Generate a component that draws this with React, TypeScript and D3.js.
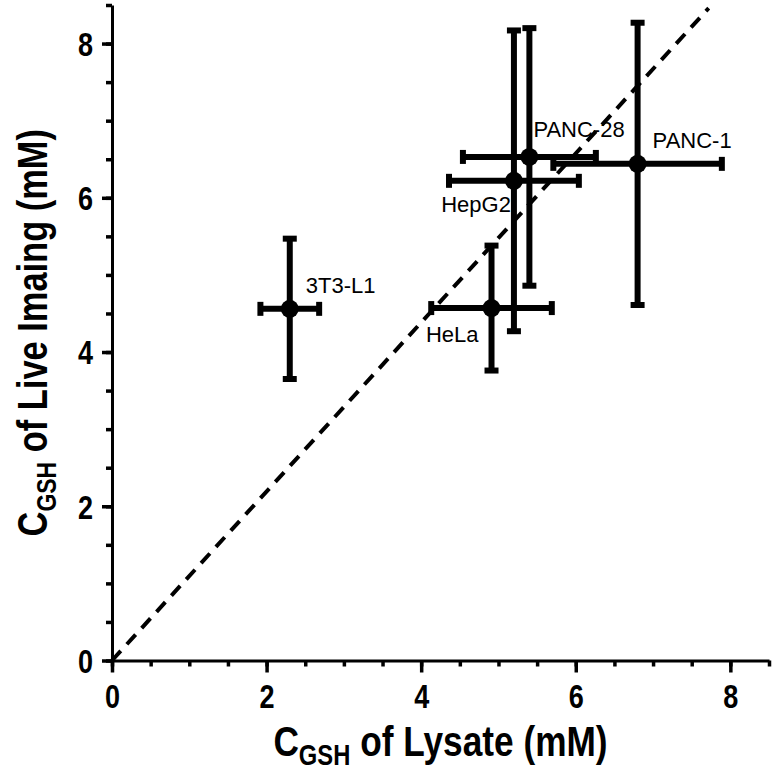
import React, { useEffect, useRef } from "react";
import * as d3 from "d3";

// cell lines and their GSH values (mM)
const cellLines = ["3T3-L1", "HeLa", "HepG2", "PANC-28", "PANC-1"];
const lysate = [2.3, 4.91, 5.2, 5.4, 6.8];
const lysateErr = [0.38, 0.78, 0.84, 0.86, 1.09];
const liveImaging = [4.56, 4.57, 6.22, 6.53, 6.44];
const liveImagingErr = [0.91, 0.81, 1.95, 1.67, 1.83];

// dashed reference line, start and end in data units
const refLineX = [0, 7.72];
const refLineY = [0, 8.46];

const majorTicks = [0, 2, 4, 6, 8];
const minorTicks = d3.range(0, 8.51, 0.5);

// label placement (pixels from the point)
const labelOffsets: Record<string, [number, number, string]> = {
  "3T3-L1": [16, -16, "start"],
  HeLa: [-13, 34, "end"],
  HepG2: [-3, 31, "end"],
  "PANC-28": [4, -20, "start"],
  "PANC-1": [15, -16, "start"],
};

const W = 772;
const H = 771;

const App = () => {
  const svgRef = useRef<SVGSVGElement>(null);

  useEffect(() => {
    const svg = d3.select(svgRef.current);
    svg.selectAll("*").remove();

    const x = d3.scaleLinear().domain([0, 8.5]).range([112, 769]);
    const y = d3.scaleLinear().domain([0, 8.5]).range([660.5, 5]);

    const font = "'Liberation Sans', Arial, sans-serif";
    const squeeze = 0.82; // bold text in the reference is narrow and tall

    // minor ticks
    svg.append("g")
      .attr("transform", `translate(0,${y(0)})`)
      .call(d3.axisBottom(x).tickValues(minorTicks).tickSize(6).tickSizeOuter(0).tickFormat(() => ""))
      .call((g) => g.select(".domain").remove());
    svg.append("g")
      .attr("transform", `translate(${x(0)},0)`)
      .call(d3.axisLeft(y).tickValues(minorTicks).tickSize(6).tickSizeOuter(0).tickFormat(() => ""))
      .call((g) => g.select(".domain").remove());

    // major axes
    const xAxis = svg.append("g")
      .attr("transform", `translate(0,${y(0)})`)
      .call(d3.axisBottom(x).tickValues(majorTicks).tickSize(12).tickSizeOuter(0).tickPadding(12).tickFormat(d3.format("d")));
    const yAxis = svg.append("g")
      .attr("transform", `translate(${x(0)},0)`)
      .call(d3.axisLeft(y).tickValues(majorTicks).tickSize(10).tickSizeOuter(0).tickPadding(5).tickFormat(d3.format("d")));

    svg.selectAll(".tick line").attr("stroke", "#000").attr("stroke-width", 3.5);
    [xAxis, yAxis].forEach((g) => {
      g.select(".domain").attr("stroke", "#000").attr("stroke-width", 3);
      g.selectAll(".tick text")
        .attr("fill", "#000")
        .attr("transform", `scale(${squeeze},1)`)
        .style("font-family", font)
        .style("font-weight", "bold")
        .style("font-size", "33px");
    });
    yAxis.selectAll(".tick text").attr("dy", "0.36em").attr("x", -19 / squeeze);

    // dashed line
    svg.append("line")
      .attr("x1", x(refLineX[0]))
      .attr("y1", y(refLineY[0]))
      .attr("x2", x(refLineX[1]))
      .attr("y2", y(refLineY[1]))
      .attr("stroke", "#000")
      .attr("stroke-width", 4)
      .attr("stroke-dasharray", "13,9");

    const data = cellLines.map((name, i) => ({
      name,
      x: lysate[i],
      xe: lysateErr[i],
      y: liveImaging[i],
      ye: liveImagingErr[i],
    }));

    const bars = svg.append("g").attr("stroke", "#000").attr("stroke-width", 6);
    const cap = 7;
    data.forEach((d) => {
      const cx = x(d.x);
      const cy = y(d.y);
      const x0 = x(d.x - d.xe), x1 = x(d.x + d.xe);
      const y0 = y(d.y - d.ye), y1 = y(d.y + d.ye);
      bars.append("line").attr("x1", x0).attr("x2", x1).attr("y1", cy).attr("y2", cy);
      bars.append("line").attr("x1", cx).attr("x2", cx).attr("y1", y0).attr("y2", y1);
      bars.append("line").attr("x1", x0).attr("x2", x0).attr("y1", cy - cap).attr("y2", cy + cap);
      bars.append("line").attr("x1", x1).attr("x2", x1).attr("y1", cy - cap).attr("y2", cy + cap);
      bars.append("line").attr("x1", cx - cap).attr("x2", cx + cap).attr("y1", y0).attr("y2", y0);
      bars.append("line").attr("x1", cx - cap).attr("x2", cx + cap).attr("y1", y1).attr("y2", y1);
    });

    svg.append("g")
      .selectAll("circle")
      .data(data)
      .enter()
      .append("circle")
      .attr("cx", (d) => x(d.x))
      .attr("cy", (d) => y(d.y))
      .attr("r", 9)
      .attr("fill", "#000");

    svg.append("g")
      .selectAll("text")
      .data(data)
      .enter()
      .append("text")
      .attr("x", (d) => x(d.x) + labelOffsets[d.name][0])
      .attr("y", (d) => y(d.y) + labelOffsets[d.name][1])
      .attr("text-anchor", (d) => labelOffsets[d.name][2])
      .style("font-family", font)
      .style("font-size", "22px")
      .attr("fill", "#000")
      .text((d) => d.name);

    // axis titles
    const xTitle = svg.append("text")
      .attr("transform", `translate(${(x(0) + x(8.5)) / 2},756) scale(${squeeze},1)`)
      .attr("text-anchor", "middle")
      .style("font-family", font)
      .style("font-weight", "bold")
      .style("font-size", "43px");
    xTitle.append("tspan").text("C");
    xTitle.append("tspan").attr("dy", 9).style("font-size", "29px").text("GSH");
    xTitle.append("tspan").attr("dy", -9).text(" of Lysate (mM)");

    const yTitle = svg.append("text")
      .attr("transform", `translate(47,${(y(0) + y(8.5)) / 2}) rotate(-90) scale(${squeeze},1)`)
      .attr("text-anchor", "middle")
      .style("font-family", font)
      .style("font-weight", "bold")
      .style("font-size", "42px");
    yTitle.append("tspan").text("C");
    yTitle.append("tspan").attr("dy", 9).style("font-size", "28px").text("GSH");
    yTitle.append("tspan").attr("dy", -9).text(" of Live Imaing (mM)");
  }, []);

  return (
    <svg
      ref={svgRef}
      width={W}
      height={H}
      style={{ position: "absolute", left: 0, top: 0, background: "#fff" }}
    />
  );
};

export default App;
